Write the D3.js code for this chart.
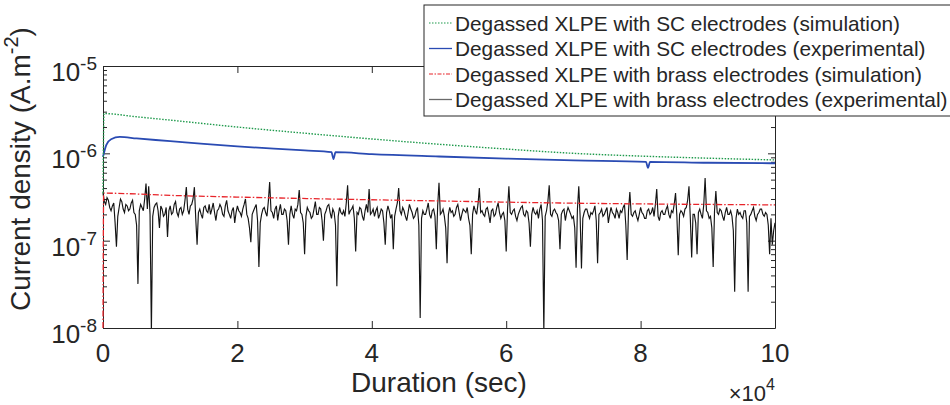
<!DOCTYPE html>
<html><head><meta charset="utf-8">
<script src="https://cdn.jsdelivr.net/npm/d3@7"></script>
<style>
html,body{margin:0;padding:0;background:#fff;}
svg{display:block;font-family:"Liberation Sans",Arial,Helvetica,sans-serif;}
</style></head><body>
<svg id="chart" width="950" height="405"></svg>
<script>
// ---------- data ----------
const xTickValues = [0, 20000, 40000, 60000, 80000, 100000];
const xTickLabels = ["0", "2", "4", "6", "8", "10"];
const yTickValues = [1e-8, 1e-7, 1e-6, 1e-5];
const yTickExponents = ["-8", "-7", "-6", "-5"];
const xLabel = "Duration (sec)";
const yLabelMain = "Current density (A.m";
const yLabelSup = "-2";
const xExponentLabel = "4";

const legendLabels = [
  "Degassed XLPE with SC electrodes (simulation)",
  "Degassed XLPE with SC electrodes (experimental)",
  "Degassed XLPE with brass electrodes (simulation)",
  "Degassed XLPE with brass electrodes (experimental)"
];

// SC electrodes, simulation (A/m^2)
const scSimTime  = [0, 150, 5000, 10000, 20000, 30000, 40000, 50000, 60000, 70000, 80000, 90000, 100000];
const scSimValue = [3.5e-7, 2.85e-6, 2.62e-6, 2.4e-6, 2.0e-6, 1.7e-6, 1.46e-6, 1.27e-6, 1.12e-6, 1.0e-6, 0.93e-6, 0.88e-6, 0.84e-6];

// SC electrodes, experimental (A/m^2)
const scExpTime  = [0, 500, 1200, 2500, 5000, 10000, 15000, 20000, 30000, 34000, 34300, 34600, 40000, 50000, 60000, 70000, 80800, 81100, 81400, 90000, 100000];
const scExpValue = [9.1e-7, 1.25e-6, 1.45e-6, 1.54e-6, 1.48e-6, 1.38e-6, 1.28e-6, 1.2e-6, 1.08e-6, 1.03e-6, 8.6e-7, 1.03e-6, 9.8e-7, 9.2e-7, 8.7e-7, 8.3e-7, 8.0e-7, 6.8e-7, 8.0e-7, 7.8e-7, 7.7e-7];

// Brass electrodes, simulation (A/m^2)
const brassSimTime  = [0, 100, 10000, 26300, 50000, 68000, 100000];
const brassSimValue = [1e-8, 3.5e-7, 3.3e-7, 3.08e-7, 2.85e-7, 2.7e-7, 2.57e-7];

// Brass electrodes, experimental: one reading every 200 s, values in units of 1e-7 A/m^2
const brassExpStep = 200;
const brassExpE7 = [
  3.5, 2.8, 2.6, 3.1, 2.9, 2.4, 2.2, 2.5, 2.7, 1.6, 0.85, 1.9, 2.4, 3.0, 2.8, 2.3, 2.1, 2.6, 2.5, 2.2,
  2.3, 2.7, 2.9, 2.1, 2.0, 1.5, 0.32, 2.2, 2.6, 2.4, 2.2, 3.0, 4.5, 2.3, 4.2, 2.0, 0.09, 1.9, 2.4, 2.6,
  2.7, 2.2, 1.4, 2.5, 2.3, 1.9, 2.0, 2.4, 1.1, 2.2, 2.5, 2.0, 2.1, 2.6, 2.8, 2.1, 1.9, 2.3, 2.4, 2.0,
  2.2, 2.9, 4.1, 2.3, 2.0, 2.5, 2.6, 3.0, 4.1, 1.8, 0.9, 2.1, 2.3, 2.0, 1.8, 2.4, 2.5, 2.2, 2.1, 2.6,
  2.0, 2.3, 2.7, 2.1, 1.7, 2.2, 2.3, 2.6, 2.4, 2.0, 1.9, 2.5, 2.9, 2.2, 2.0, 1.8, 2.2, 2.4, 1.6, 2.1,
  2.5, 2.2, 2.1, 1.9, 2.3, 2.6, 3.0, 2.0, 1.8, 1.4, 0.96, 2.0, 2.2, 2.4, 2.6, 1.7, 0.5, 1.6, 2.0, 2.3,
  2.4, 2.1, 1.9, 2.8, 4.7, 2.2, 2.1, 1.8, 2.3, 2.5, 1.7, 2.2, 2.6, 2.0, 2.0, 2.3, 2.2, 1.7, 0.9, 2.0,
  2.5, 2.0, 1.8, 2.3, 2.2, 2.6, 3.8, 2.1, 2.0, 1.6, 0.7, 1.9, 2.4, 2.2, 2.1, 1.8, 1.9, 2.3, 2.8, 2.0,
  2.0, 2.4, 2.3, 1.7, 1.0, 2.0, 2.2, 2.5, 2.6, 2.1, 1.8, 2.3, 2.1, 1.5, 0.3, 1.9, 2.4, 2.1, 2.0, 2.2,
  1.9, 2.7, 4.3, 2.0, 2.2, 2.3, 2.5, 1.8, 0.75, 2.1, 2.0, 2.4, 2.3, 1.9, 1.7, 2.2, 2.6, 2.1, 3.9, 2.0,
  2.1, 2.3, 1.9, 2.2, 2.4, 1.8, 2.0, 2.3, 2.2, 1.6, 0.9, 2.1, 2.5, 2.2, 1.8, 2.0, 0.8, 1.9, 2.3, 2.7,
  4.0, 2.2, 2.0, 2.4, 2.2, 1.9, 1.7, 2.1, 2.6, 2.3, 2.1, 1.8, 1.9, 2.2, 2.4, 1.5, 0.13, 1.8, 2.2, 2.0,
  2.0, 2.3, 2.7, 2.0, 1.8, 2.2, 2.3, 1.9, 0.8, 2.5, 4.6, 2.0, 2.1, 2.3, 1.9, 1.4, 0.55, 2.0, 2.4, 2.1,
  2.2, 1.9, 2.0, 2.4, 2.6, 2.1, 1.7, 2.0, 2.3, 2.2, 2.1, 2.4, 1.8, 1.5, 0.7, 2.0, 2.5, 2.2, 2.0, 2.6,
  4.0, 2.1, 2.2, 2.0, 1.9, 2.3, 2.4, 2.0, 1.6, 2.2, 2.3, 1.9, 2.0, 2.4, 2.7, 2.1, 1.8, 2.0, 2.1, 1.7,
  0.75, 2.3, 4.2, 2.1, 2.0, 2.2, 2.3, 1.9, 1.7, 2.0, 2.2, 2.4, 2.5, 2.0, 1.9, 2.2, 2.1, 1.6, 0.85, 2.0,
  2.4, 2.1, 2.0, 2.2, 1.8, 2.3, 2.6, 1.7, 0.09, 1.9, 2.2, 2.8, 4.3, 2.0, 1.9, 2.2, 2.3, 2.1, 2.0, 1.7,
  0.8, 2.0, 2.2, 2.3, 1.7, 2.1, 2.4, 2.2, 2.0, 1.8, 1.9, 1.4, 0.49, 2.3, 4.2, 1.9, 0.48, 1.8, 2.1, 2.3,
  2.3, 2.0, 1.8, 2.1, 2.0, 2.2, 2.5, 1.7, 0.55, 2.0, 2.1, 2.3, 1.9, 2.0, 2.2, 2.4, 1.6, 2.0, 2.4, 2.1,
  2.0, 1.8, 2.3, 2.1, 1.8, 2.2, 2.1, 2.4, 2.6, 1.5, 0.6, 2.2, 3.6, 2.0, 1.9, 2.1, 2.2, 1.9, 1.7, 2.0,
  2.4, 2.1, 2.0, 1.8, 1.8, 2.2, 2.3, 2.0, 2.1, 2.4, 1.9, 2.6, 3.9, 1.9, 1.7, 2.1, 2.2, 2.0, 2.0, 2.3,
  2.5, 2.0, 1.8, 2.2, 2.1, 2.6, 3.5, 1.9, 0.68, 2.0, 2.2, 2.1, 1.9, 2.3, 2.4, 2.9, 4.2, 1.8, 0.64, 2.0,
  2.0, 1.6, 0.7, 2.1, 2.3, 2.0, 1.8, 2.6, 5.2, 2.2, 2.1, 1.8, 1.9, 1.4, 0.5, 2.2, 3.7, 2.1, 2.0, 2.3,
  2.2, 1.9, 1.7, 2.1, 2.4, 2.0, 2.0, 2.2, 1.9, 1.3, 0.26, 1.8, 2.3, 2.0, 2.1, 1.9, 1.8, 2.2, 2.2, 1.6,
  0.26, 1.9, 2.0, 2.2, 2.4, 1.9, 1.7, 2.0, 2.1, 2.3, 2.3, 2.0, 1.9, 2.1, 2.0, 1.5, 0.7, 1.8, 0.9, 1.3,
  1.6
];

// ---------- chart ----------
const svg = d3.select("#chart");
const M = {left: 103, right: 775, top: 66, bottom: 328};
const INK = "#262626";

const x = d3.scaleLinear().domain([0, 100000]).range([M.left, M.right]);
const y = d3.scaleLog().domain([1e-8, 1e-5]).range([M.bottom, M.top]);

const minorY = [];
for (let e = -8; e < -5; e++) for (let k = 2; k <= 9; k++) minorY.push(k * Math.pow(10, e));

function styleAxis(g) {
  g.selectAll("path").attr("stroke", INK).attr("stroke-width", 1);
  g.selectAll("line").attr("stroke", INK).attr("stroke-width", 1);
  g.selectAll("text").remove();
}

// frame + ticks (inward)
svg.append("g").attr("transform", `translate(0,${M.bottom})`)
  .call(d3.axisBottom(x).tickValues(xTickValues).tickSize(-7).tickSizeOuter(0)).call(styleAxis);
svg.append("g").attr("transform", `translate(0,${M.top})`)
  .call(d3.axisTop(x).tickValues(xTickValues).tickSize(-7).tickSizeOuter(0)).call(styleAxis);
svg.append("g").attr("transform", `translate(${M.left},0)`)
  .call(d3.axisLeft(y).tickValues(yTickValues).tickSize(-7).tickSizeOuter(0)).call(styleAxis);
svg.append("g").attr("transform", `translate(${M.right},0)`)
  .call(d3.axisRight(y).tickValues(yTickValues).tickSize(-7).tickSizeOuter(0)).call(styleAxis);
svg.append("g").attr("transform", `translate(${M.left},0)`)
  .call(d3.axisLeft(y).tickValues(minorY).tickSize(-4).tickSizeOuter(0)).call(styleAxis)
  .select("path").remove();
svg.append("g").attr("transform", `translate(${M.right},0)`)
  .call(d3.axisRight(y).tickValues(minorY).tickSize(-4).tickSizeOuter(0)).call(styleAxis)
  .select("path").remove();

// x tick labels
svg.append("g").selectAll("text").data(xTickValues).join("text")
  .attr("x", d => x(d)).attr("y", M.bottom + 34)
  .attr("text-anchor", "middle").attr("font-size", 26).attr("fill", INK)
  .text((d, i) => xTickLabels[i]);

// y tick labels 10^n
const yl = svg.append("g").selectAll("text").data(yTickValues).join("text")
  .attr("x", M.left - 6).attr("y", d => y(d) + 15)
  .attr("text-anchor", "end").attr("font-size", 26).attr("fill", INK);
yl.append("tspan").text("10");
yl.append("tspan").attr("font-size", 19).attr("dy", -11).text((d, i) => yTickExponents[i]);

// x exponent
const xe = svg.append("text").attr("x", M.right).attr("y", 401)
  .attr("text-anchor", "end").attr("font-size", 22).attr("fill", INK);
xe.append("tspan").text("\u00d710");
xe.append("tspan").attr("font-size", 16).attr("dy", -11).text(xExponentLabel);

// axis titles
svg.append("text").attr("x", (M.left + M.right) / 2).attr("y", 392)
  .attr("text-anchor", "middle").attr("font-size", 28).attr("fill", INK).text(xLabel);
const yt = svg.append("text").attr("transform", "translate(30,311) rotate(-90)")
  .attr("text-anchor", "start").attr("font-size", 28).attr("fill", INK);
yt.append("tspan").text(yLabelMain);
yt.append("tspan").attr("font-size", 20).attr("dy", -12).text(yLabelSup);
yt.append("tspan").attr("dy", 12).text(")");

// clip
svg.append("clipPath").attr("id", "plotclip").append("rect")
  .attr("x", M.left - 1).attr("y", M.top).attr("width", M.right - M.left + 1).attr("height", M.bottom - M.top);

const plot = svg.append("g").attr("clip-path", "url(#plotclip)");

const brassExp = brassExpE7.map((v, i) => [i * brassExpStep, v * 1e-7]);
plot.append("path").datum(brassExp)
  .attr("d", d3.line().x(d => x(d[0])).y(d => y(Math.max(d[1], 5e-9))))
  .attr("fill", "none").attr("stroke", "#141414").attr("stroke-width", 1.15);

const brassSim = brassSimTime.map((t, i) => [t, brassSimValue[i]]);
plot.append("path").datum(brassSim).attr("d", d3.line().x(d => x(d[0])).y(d => y(d[1])).curve(d3.curveMonotoneX))
  .attr("fill", "none").attr("stroke", "#e8242a").attr("stroke-width", 1.3)
  .attr("stroke-dasharray", "6,2,1.5,2");

const scExp = scExpTime.map((t, i) => [t, scExpValue[i]]);
plot.append("path").datum(scExp).attr("d", d3.line().x(d => x(d[0])).y(d => y(d[1])).curve(d3.curveMonotoneX))
  .attr("fill", "none").attr("stroke", "#2a4bb3").attr("stroke-width", 1.8);

const scSim = scSimTime.map((t, i) => [t, scSimValue[i]]);
plot.append("path").datum(scSim).attr("d", d3.line().x(d => x(d[0])).y(d => y(d[1])).curve(d3.curveMonotoneX))
  .attr("fill", "none").attr("stroke", "#1f9a4c").attr("stroke-width", 1.4)
  .attr("stroke-dasharray", "1.5,1.5");

// legend
const lg = svg.append("g");
lg.append("rect").attr("x", 424).attr("y", 5).attr("width", 540).attr("height", 111)
  .attr("fill", "#fff").attr("stroke", INK).attr("stroke-width", 1);
const legendStyles = [
  {c: "#1f9a4c", w: 1.2, dash: "1.5,1.5"},
  {c: "#2a4bb3", w: 1.3, dash: null},
  {c: "#e8242a", w: 1.2, dash: "4,1.5,1.5,1.5"},
  {c: "#6a6a6a", w: 1.3, dash: null}
];
const rowY = i => 23 + i * 25.5;
legendLabels.forEach((lab, i) => {
  const s = legendStyles[i];
  lg.append("line").attr("x1", 429).attr("x2", 452).attr("y1", rowY(i)).attr("y2", rowY(i))
    .attr("stroke", s.c).attr("stroke-width", s.w).attr("stroke-dasharray", s.dash);
  lg.append("text").attr("x", 455).attr("y", rowY(i) + 7.5).attr("font-size", 20.8).attr("fill", INK).text(lab);
});
</script>
</body></html>
